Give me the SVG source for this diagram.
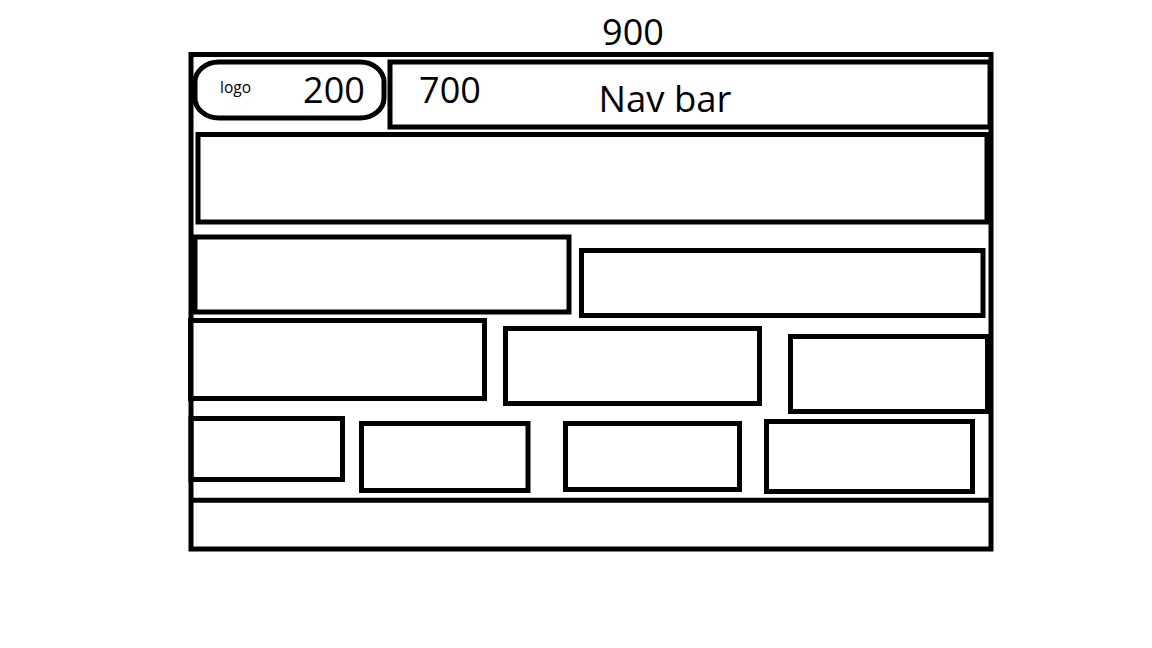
<svg xmlns="http://www.w3.org/2000/svg" width="1152" height="648" viewBox="0 0 1152 648">
<style>
.box{fill:none;stroke:#000;stroke-width:5}
.t{font-family:"Open Sans","Noto Sans","Liberation Sans",sans-serif;fill:#000}
</style>
<rect width="1152" height="648" fill="#fff"/>
<g id="page"><rect class="box" x="191" y="54.5" width="800" height="494.5"/></g>
<g id="width-label"><text class="t" x="633" y="44.5" font-size="36" text-anchor="middle">900</text></g>
<g id="logo">
<rect class="box" x="195" y="62" width="189" height="56" rx="24" ry="20"/>
<text class="t" x="220" y="93.3" font-size="15.5">logo</text>
<text class="t" x="334" y="103.3" font-size="36" text-anchor="middle">200</text>
</g>
<g id="navbar">
<rect class="box" x="390" y="62" width="600" height="65"/>
<text class="t" x="450" y="103.3" font-size="36" text-anchor="middle">700</text>
<text class="t" x="665" y="111.7" font-size="36.5" text-anchor="middle">Nav bar</text>
</g>
<g id="banner"><rect class="box" x="198" y="134.5" width="789" height="87.5"/></g>
<g id="row2-left"><rect class="box" x="195" y="237" width="374" height="75"/></g>
<g id="row2-right"><rect class="box" x="581.5" y="250.5" width="401.5" height="65"/></g>
<g id="row3-left"><rect class="box" x="190.5" y="320.5" width="294" height="78"/></g>
<g id="row3-mid"><rect class="box" x="505.5" y="328.5" width="254" height="75"/></g>
<g id="row3-right"><rect class="box" x="790.5" y="336.5" width="197" height="75"/></g>
<g id="row4-a"><rect class="box" x="191" y="418.5" width="151.5" height="61"/></g>
<g id="row4-b"><rect class="box" x="361.5" y="423.5" width="166.5" height="67"/></g>
<g id="row4-c"><rect class="box" x="565.5" y="423.5" width="174" height="66"/></g>
<g id="row4-d"><rect class="box" x="766.5" y="421.5" width="206" height="70"/></g>
<g id="footer"><line x1="191" y1="500.2" x2="991" y2="500.2" stroke="#000" stroke-width="5"/></g>
<g id="connectors"></g>
</svg>
